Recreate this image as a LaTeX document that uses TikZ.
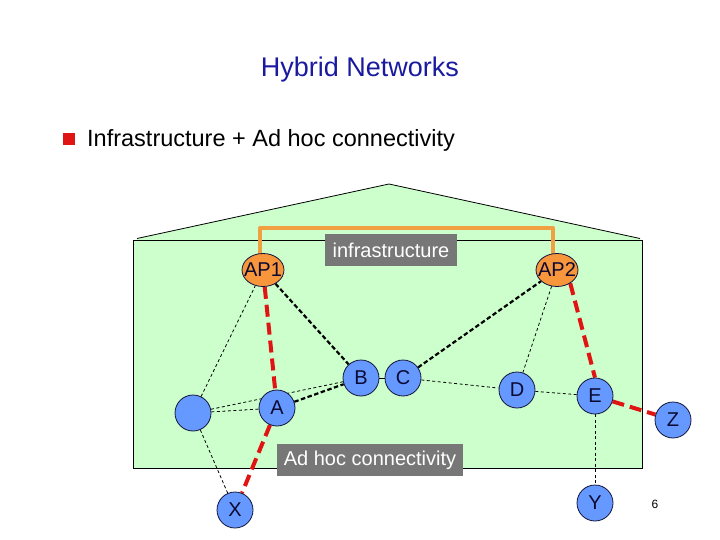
\documentclass[tikz,border=0pt]{standalone}
\usepackage{fontspec}
\setmainfont{Liberation Sans}
\usetikzlibrary{shapes.geometric}
\definecolor{gfill}{RGB}{204,255,204}
\definecolor{bfill}{RGB}{102,153,255}
\definecolor{bdraw}{RGB}{20,20,60}
\definecolor{ofill}{RGB}{248,150,60}
\definecolor{oline}{RGB}{240,160,64}
\definecolor{redl}{RGB}{225,20,20}
\definecolor{titleblue}{RGB}{26,26,160}
\definecolor{boxgray}{RGB}{119,119,119}
\definecolor{txt}{RGB}{10,10,50}
\pgfdeclarelayer{back}
\pgfdeclarelayer{mid}
\pgfsetlayers{back,mid,main}
\tikzset{
 host/.style={circle, fill=bfill, draw=bdraw, line width=0.8pt, minimum size=36pt, inner sep=0pt, font=\fontsize{20}{24}\selectfont, text=txt},
 apnode/.style={ellipse, fill=ofill, draw=bdraw, line width=0.8pt, minimum width=42pt, minimum height=33pt, inner sep=0pt},
 aplabel/.style={font=\fontsize{20}{24}\selectfont, text=txt, inner sep=0pt},
 thinlink/.style={line width=0.8pt, dash pattern=on 3pt off 2.5pt},
 thicklink/.style={line width=2.2pt, dash pattern=on 4.5pt off 2.5pt},
 redlink/.style={line width=4pt, draw=redl, dash pattern=on 12pt off 6pt},
 infline/.style={line width=4pt, draw=oline, line join=round},
 graybox/.style={fill=boxgray, text=white, font=\fontsize{20}{24}\selectfont, inner sep=0pt, minimum height=32pt},
}
\begin{document}
\begin{tikzpicture}[x=1pt,y=-1pt]
\useasboundingbox (0,0) rectangle (720,540);
\begin{pgfonlayer}{back}
\fill[gfill] (137,238.5) -- (389,184) -- (640,238.5) -- (640,240) -- (137,240) -- cycle;
\fill[gfill] (133,240) rectangle (642,468);
\draw[line width=0.8pt] (137,238.5) -- (389,184) -- (640,238.5);
\draw[line width=0.8pt] (133,240) rectangle (642,468);
\end{pgfonlayer}
% titles
\node[anchor=base, text=titleblue, font=\fontsize{27}{32}\selectfont, inner sep=0pt] (title) at (360,77) {Hybrid Networks};
\node[fill=redl, minimum size=12pt, inner sep=0pt] (bul) at (69,139.5) {};
\node[anchor=base west, font=\fontsize{23.5}{28}\selectfont, inner sep=0pt] (sub) at (87,147) {Infrastructure + Ad hoc connectivity};
% nodes
\node[apnode, label={[aplabel]center:AP1}] (AP1) at (263,270) {};
\node[apnode, label={[aplabel]center:AP2}] (AP2) at (557,270) {};
\node[host] (U) at (193,413) {};
\node[host] (A) at (277,408) {A};
\node[host] (B) at (361,378) {B};
\node[host] (C) at (403,378) {C};
\node[host] (D) at (517,390) {D};
\node[host] (E) at (595,396) {E};
\node[host] (Z) at (673,420) {Z};
\node[host] (Y) at (595,503) {Y};
\node[host] (X) at (235,510) {X};
\node[graybox, minimum width=132pt] (inf) at (391,250) {infrastructure};
\node[graybox, minimum width=186pt] (adhoc) at (370,460) {Ad hoc connectivity};
\node[font=\fontsize{12}{14}\selectfont, inner sep=0pt] (pg) at (655,504) {6};
% links
\begin{pgfonlayer}{mid}
\draw[infline] ([xshift=-3pt]AP1.center) -- ([xshift=-3pt]AP1.center |- 0,228) -- ([xshift=-4pt]AP2.center |- 0,228) -- ([xshift=-4pt]AP2.center);
\draw[thinlink] (U) -- (AP1);
\draw[thinlink] (U) -- (A);
\draw[thinlink] (U) -- (B);
\draw[thinlink] (U) -- (X);
\draw[line width=0.8pt] (B) -- (C);
\draw[thinlink] (C) -- (D);
\draw[thinlink] (AP2) -- (D);
\draw[thinlink] (D) -- (E);
\draw[thinlink] (E) -- (Y);
\draw[thicklink] (AP1) -- (B);
\draw[thicklink] (C) -- (AP2);
\draw[thicklink] (A) -- (B);
\draw[redlink] (AP1) -- (A);
\draw[redlink] (A) -- (X);
\draw[redlink] (AP2.-45) -- (E.north);
\draw[redlink] (E) -- (Z);
\end{pgfonlayer}
\end{tikzpicture}
\end{document}
